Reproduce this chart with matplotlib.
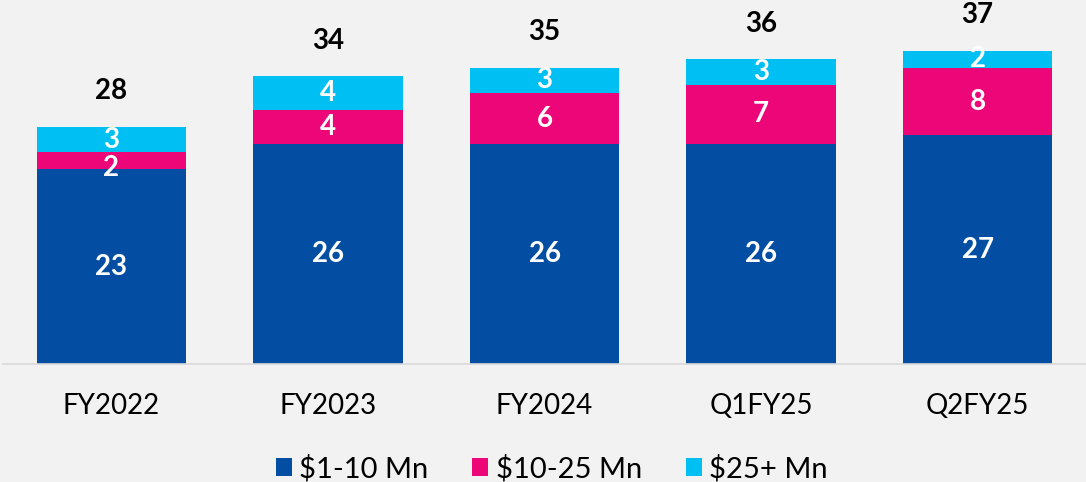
import matplotlib.pyplot as plt
import numpy as np

periods = ['FY2022', 'FY2023', 'FY2024', 'Q1FY25', 'Q2FY25']
small = [23, 26, 26, 26, 27]
mid = [2, 4, 6, 7, 8]
large = [3, 4, 3, 3, 2]
totals = [28, 34, 35, 36, 37]
series_names = ['$1-10 Mn', '$10-25 Mn', '$25+ Mn']
colors = ['#034ea2', '#ec0677', '#00c0f3']

plt.rcParams['font.family'] = ['Lato', 'DejaVu Sans']

fig = plt.figure(figsize=(10.86, 4.82), dpi=100, facecolor='#f2f2f2')
ax = fig.add_axes([3 / 1086, 118 / 482, 1083 / 1086, 364 / 482])
ax.set_facecolor('#f2f2f2')

x = np.arange(len(periods))
bottom = np.zeros(len(periods))
for k, (vals, name, col) in enumerate(zip([small, mid, large], series_names, colors)):
    ax.bar(x, vals, width=0.69, bottom=bottom, color=col, label=name)
    for xi, b, v in zip(x, bottom, vals):
        # thin middle segment: label sits low, like the original
        y = b + 0.1 if (k == 1 and v <= 2) else b + v / 2
        ax.text(xi, y, str(v), ha='center', va='center',
                color='white', fontsize=20, fontweight='bold')
    bottom += np.array(vals)

for xi, t in zip(x, totals):
    ax.text(xi, t + 4.2, str(t), ha='center', va='center',
            color='black', fontsize=20, fontweight='bold')

ax.set_xlim(-0.5, len(periods) - 0.5)
ax.set_ylim(0, 43)
ax.set_xticks(x)
ax.set_xticklabels(periods, fontsize=20)
ax.tick_params(axis='x', length=0, pad=21)
ax.set_yticks([])
for s in ['left', 'right', 'top']:
    ax.spines[s].set_visible(False)
ax.spines['bottom'].set_color('#d9d9d9')
ax.spines['bottom'].set_linewidth(1.2)

fig.legend(loc='lower center', bbox_to_anchor=(0.508, -0.055), ncol=3,
           frameon=False, fontsize=21, handlelength=0.55, handleheight=0.55,
           handletextpad=0.25, columnspacing=1.5)

fig.savefig('out.png', dpi=100, facecolor=fig.get_facecolor())
